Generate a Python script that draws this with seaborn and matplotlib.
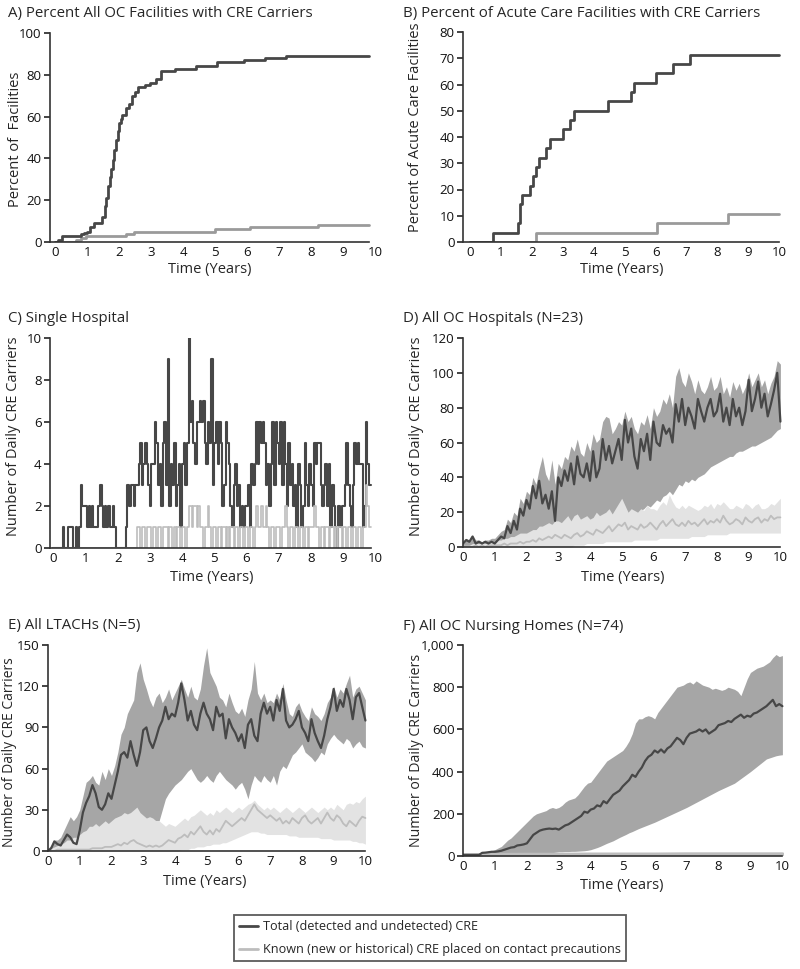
import numpy as np
import seaborn as sns
import matplotlib.pyplot as plt
from matplotlib.lines import Line2D
from matplotlib.ticker import StrMethodFormatter

sns.set_style("ticks")
plt.rcParams['font.family'] = ['Open Sans', 'DejaVu Sans']
plt.rcParams.update({
    "font.size": 9,
    "axes.linewidth": 1.2,
    "axes.edgecolor": "#333333",
    "xtick.color": "#111111",
    "ytick.color": "#111111",
})

DARK = "#474747"
BAND = "#a6a6a6"
LIGHT = "#bdbdbd"
LIGHT_BAND = "#e3e3e3"
AB_GRAY = "#9a9a9a"

# ---- A) all OC facilities (step breakpoints) ----
a_t_total = [0, 0.1, 0.2, 0.8, 0.9, 1.0, 1.1, 1.2, 1.45, 1.55,
             1.6, 1.65, 1.7, 1.75, 1.8, 1.85, 1.9, 1.95, 2.0, 2.05,
             2.1, 2.2, 2.3, 2.4, 2.5, 2.6, 2.8, 2.95, 3.15, 3.3,
             3.75, 4.4, 5.05, 5.9, 6.55, 7.2, 9.8]
a_total = [0, 1, 3, 4, 4.5, 5, 7, 9, 12, 17,
           21, 27, 31, 35, 39, 44, 49, 53, 57, 59,
           61, 64, 66, 70, 72, 74, 75, 76, 78, 82,
           83, 84, 86, 87, 88, 89, 89]
a_t_known = [0, 0.65, 0.8, 0.95, 2.2, 2.45, 5.0, 6.1, 8.2, 9.8]
a_known = [0, 1, 2, 3, 4, 5, 6, 7, 8, 8]

# ---- B) acute care facilities ----
b_t_total = [0, 0.75, 1.57, 1.62, 1.7, 1.95, 2.05, 2.15, 2.25, 2.45,
             2.6, 3.0, 3.25, 3.35, 4.45, 5.2, 5.3, 6.0, 6.55, 7.1, 10.0]
b_total = [0, 3.6, 7.1, 14.3, 17.9, 21.4, 25.0, 28.6, 32.1, 35.7,
           39.3, 42.9, 46.4, 50.0, 53.6, 57.1, 60.7, 64.3, 67.9, 71.4, 71.4]
b_t_known = [0, 2.15, 6.05, 8.35, 10.0]
b_known = [0, 3.6, 7.1, 10.7, 10.7]

# ---- C) single hospital, every 0.05 yr ----
c_total = [
    0, 0, 0, 0, 0, 0, 1, 0, 0, 1, 1, 1, 0, 0, 1, 0, 1, 3, 2, 2,
    2, 1, 2, 1, 2, 1, 1, 1, 2, 3, 2, 1, 2, 1, 2, 1, 1, 2, 1, 0,
    0, 0, 0, 0, 0, 1, 3, 2, 3, 3, 2, 3, 3, 4, 5, 3, 4, 5, 4, 3,
    2, 4, 4, 6, 5, 3, 4, 2, 5, 6, 3, 9, 2, 4, 3, 5, 2, 3, 4, 1,
    4, 5, 3, 5, 10, 6, 7, 5, 4, 6, 6, 7, 6, 7, 5, 4, 6, 5, 9, 3,
    5, 6, 4, 6, 5, 2, 3, 6, 5, 4, 2, 1, 3, 4, 2, 3, 1, 2, 1, 2,
    2, 3, 1, 4, 3, 4, 6, 4, 6, 5, 6, 5, 3, 4, 2, 4, 6, 3, 6, 5,
    4, 6, 3, 6, 4, 2, 5, 3, 4, 2, 3, 1, 4, 3, 1, 2, 5, 3, 2, 4,
    3, 2, 5, 4, 5, 5, 3, 2, 3, 4, 2, 4, 1, 3, 2, 1, 0, 2, 1, 2,
    2, 3, 5, 3, 2, 1, 3, 5, 4, 5, 4, 4, 1, 2, 6, 4, 3, 3]
c_known = [
    0, 0, 0, 0, 0, 0, 0, 0, 0, 0, 0, 0, 0, 0, 0, 0, 0, 0, 0, 0,
    0, 0, 0, 0, 0, 0, 0, 0, 0, 0, 0, 0, 0, 0, 0, 0, 0, 0, 0, 0,
    0, 0, 0, 0, 0, 0, 0, 0, 0, 0, 0, 0, 1, 1, 0, 1, 1, 0, 1, 1,
    1, 0, 1, 1, 0, 1, 1, 0, 1, 1, 1, 0, 1, 1, 0, 1, 0, 1, 1, 0,
    1, 1, 0, 1, 2, 2, 1, 2, 2, 1, 2, 1, 1, 0, 1, 1, 2, 1, 0, 1,
    1, 0, 1, 1, 0, 1, 1, 0, 1, 0, 1, 1, 0, 1, 1, 0, 1, 1, 0, 1,
    1, 0, 1, 1, 0, 1, 2, 1, 1, 2, 1, 1, 2, 1, 0, 1, 1, 0, 1, 1,
    1, 0, 1, 1, 2, 1, 0, 1, 1, 0, 1, 1, 0, 1, 1, 0, 1, 1, 0, 1,
    1, 1, 2, 1, 1, 0, 1, 1, 0, 1, 1, 0, 1, 1, 0, 1, 0, 1, 1, 0,
    1, 1, 0, 1, 1, 0, 1, 1, 0, 1, 1, 0, 1, 1, 3, 2, 1, 1]

# ---- D) all OC hospitals, every 0.1 yr ----
d_total = [
    2, 4, 3, 6, 2, 3, 2, 3, 2, 3,
    2, 4, 6, 5, 12, 8, 15, 10, 22, 18,
    27, 22, 35, 28, 38, 25, 30, 22, 32, 15,
    40, 35, 44, 38, 48, 36, 52, 42, 40, 48,
    38, 55, 40, 45, 62, 50, 58, 48, 55, 62,
    50, 73, 60, 68, 52, 45, 62, 55, 65, 50,
    72, 60, 58, 70, 65, 68, 60, 82, 72, 85,
    70, 80, 75, 68, 85, 78, 72, 80, 85, 75,
    78, 88, 72, 80, 70, 85, 75, 80, 70, 78,
    96, 78, 85, 95, 80, 88, 75, 82, 90, 100, 72]
d_upper = [
    3, 5, 4, 7, 4, 4, 3, 4, 4, 5,
    5, 7, 9, 10, 16, 14, 20, 18, 28, 25,
    32, 30, 40, 36, 45, 52, 42, 38, 50, 36,
    48, 45, 52, 50, 58, 55, 62, 54, 52, 60,
    55, 65, 60, 62, 72, 75, 74, 65, 68, 72,
    70, 78, 72, 75, 68, 65, 72, 70, 76, 68,
    80, 75, 78, 85, 82, 88, 80, 98, 103, 95,
    92, 100, 95, 88, 96, 90, 88, 92, 98, 90,
    92, 98, 88, 92, 86, 95, 90, 94, 88, 92,
    100, 92, 96, 100, 92, 96, 88, 94, 98, 107, 105]
d_lower = [
    0, 0, 0, 0, 0, 0, 0, 0, 0, 0,
    1, 1, 2, 2, 3, 3, 4, 4, 5, 5,
    5, 6, 6, 7, 8, 8, 7, 6, 8, 6,
    6, 7, 8, 8, 9, 9, 10, 11, 12, 13,
    14, 14, 15, 14, 16, 15, 17, 16, 18, 19,
    20, 19, 18, 20, 19, 18, 21, 22, 24, 23,
    25, 27, 26, 29, 30, 32, 30, 33, 36, 35,
    38, 37, 39, 38, 40, 41, 42, 44, 46, 47,
    48, 49, 50, 51, 52, 52, 54, 55, 55, 56,
    57, 58, 58, 59, 60, 61, 62, 63, 65, 67, 68]
d_known = [
    0, 0, 0, 0, 1, 0, 1, 0, 1, 1,
    1, 1, 1, 2, 1, 2, 2, 2, 3, 2,
    3, 3, 4, 3, 5, 4, 5, 6, 5, 7,
    6, 5, 7, 6, 5, 7, 8, 6, 7, 9,
    8, 7, 10, 9, 8, 10, 12, 9, 11, 13,
    12, 14, 10, 12, 11, 10, 13, 11, 12, 14,
    12, 10, 13, 15, 12, 14, 16, 13, 12, 14,
    12, 15, 13, 14, 12, 14, 16, 13, 15, 14,
    16, 14, 18, 15, 13, 14, 16, 15, 13, 17,
    15, 14, 16, 17, 14, 16, 15, 18, 16, 17, 17]
d_known_upper = [
    1, 1, 1, 2, 2, 2, 3, 2, 3, 3,
    3, 4, 4, 5, 5, 6, 6, 7, 8, 8,
    8, 9, 10, 10, 12, 12, 13, 14, 13, 15,
    15, 14, 16, 18, 15, 18, 19, 16, 17, 18,
    16, 17, 20, 18, 19, 20, 22, 19, 22, 25,
    28, 24, 20, 22, 21, 20, 22, 21, 24, 22,
    22, 21, 24, 26, 24, 30, 26, 23, 22, 24,
    22, 24, 23, 22, 21, 22, 24, 23, 25, 22,
    25, 24, 26, 24, 22, 22, 24, 23, 22, 25,
    24, 22, 24, 25, 22, 22, 23, 25, 24, 26, 28]
d_known_lower = [
    0, 0, 0, 0, 0, 0, 0, 0, 0, 0,
    0, 0, 0, 0, 0, 0, 0, 0, 0, 0,
    0, 0, 0, 0, 0, 0, 0, 0, 0, 0,
    0, 0, 0, 0, 0, 1, 1, 1, 1, 2,
    2, 2, 2, 2, 2, 3, 3, 3, 3, 3,
    3, 3, 3, 3, 4, 4, 4, 4, 4, 4,
    4, 4, 5, 5, 5, 5, 5, 5, 5, 5,
    5, 5, 6, 6, 6, 6, 6, 7, 7, 7,
    7, 7, 7, 7, 8, 8, 8, 8, 8, 8,
    8, 8, 8, 8, 8, 8, 8, 8, 8, 8, 8]

# ---- E) all LTACHs, every 0.1 yr ----
e_total = [
    0, 2, 7, 5, 4, 8, 12, 10, 6, 5,
    15, 28, 35, 40, 48, 42, 32, 30, 34, 42,
    38, 48, 58, 70, 72, 68, 80, 70, 62, 72,
    88, 90, 80, 75, 82, 90, 95, 105, 96, 100,
    98, 108, 122, 110, 95, 102, 92, 88, 100, 108,
    100, 96, 88, 105, 98, 100, 82, 96, 90, 86,
    80, 85, 75, 92, 96, 84, 80, 100, 108, 100,
    105, 95, 110, 102, 118, 95, 90, 92, 96, 102,
    90, 86, 80, 96, 86, 80, 75, 84, 96, 105,
    118, 102, 110, 105, 118, 110, 96, 112, 115, 105, 95]
e_upper = [
    2, 4, 8, 8, 10, 15, 20, 25, 22, 25,
    30, 40, 50, 52, 55, 50, 48, 58, 52, 60,
    55, 62, 72, 85, 90, 100, 105, 110, 130, 137,
    125, 118, 110, 105, 112, 115, 108, 112, 118, 110,
    115, 120, 125, 118, 112, 120, 112, 110, 118, 135,
    148, 130, 125, 120, 112, 110, 105, 115, 108, 102,
    100, 104, 98, 110, 118, 138, 115, 110, 115, 108,
    110, 108, 115, 110, 122, 110, 100, 98, 105, 108,
    102, 98, 95, 105, 100, 98, 95, 100, 108, 112,
    120, 112, 118, 115, 122, 128, 112, 118, 120, 115, 110]
e_lower = [
    0, 0, 1, 1, 2, 2, 3, 3, 4, 4,
    5, 6, 8, 10, 12, 12, 13, 14, 15, 15,
    16, 17, 18, 20, 20, 22, 22, 24, 24, 23,
    22, 22, 22, 22, 22, 22, 30, 38, 42, 45,
    48, 50, 52, 55, 58, 60, 56, 52, 50, 52,
    55, 52, 50, 55, 58, 55, 52, 50, 48, 45,
    48, 50, 45, 38, 48, 55, 52, 50, 55, 52,
    50, 55, 48, 58, 62, 60, 65, 70, 72, 75,
    78, 72, 70, 68, 65, 68, 72, 70, 78, 82,
    85, 82, 80, 78, 82, 80, 75, 78, 80, 76, 75]
e_known = [
    0, 0, 0, 1, 1, 1, 1, 1, 1, 1,
    1, 1, 1, 1, 2, 2, 2, 2, 3, 3,
    3, 4, 5, 4, 6, 5, 7, 8, 6, 5,
    4, 3, 4, 3, 4, 3, 4, 6, 8, 7,
    6, 9, 10, 12, 10, 14, 12, 15, 18, 14,
    12, 15, 12, 16, 14, 18, 22, 20, 18, 20,
    22, 24, 22, 26, 30, 34, 30, 28, 26, 24,
    26, 24, 22, 24, 20, 22, 20, 24, 22, 20,
    24, 26, 22, 20, 22, 24, 20, 24, 28, 24,
    22, 26, 24, 20, 18, 22, 20, 18, 22, 25, 24]
e_known_upper = [
    1, 2, 3, 4, 5, 6, 8, 8, 10, 10,
    12, 14, 15, 18, 18, 20, 18, 20, 22, 20,
    22, 24, 25, 26, 28, 27, 28, 30, 32, 28,
    26, 24, 25, 24, 22, 22, 20, 18, 20, 19,
    18, 20, 22, 24, 22, 25, 26, 28, 30, 28,
    26, 28, 26, 30, 28, 30, 32, 30, 28, 30,
    32, 30, 32, 34, 35, 37, 34, 32, 30, 32,
    30, 32, 30, 28, 30, 32, 30, 28, 30, 32,
    30, 28, 30, 32, 30, 28, 30, 32, 30, 32,
    30, 34, 32, 30, 34, 35, 34, 36, 35, 38, 40]
e_known_lower = [
    0, 0, 0, 0, 0, 0, 0, 0, 0, 0,
    0, 0, 0, 0, 0, 0, 0, 0, 0, 0,
    0, 0, 0, 0, 0, 0, 0, 0, 0, 0,
    0, 0, 0, 0, 0, 0, 0, 0, 0, 0,
    0, 0, 1, 1, 1, 2, 2, 3, 3, 3,
    4, 4, 5, 5, 5, 6, 6, 7, 8, 9,
    10, 11, 12, 13, 14, 14, 14, 13, 13, 12,
    12, 12, 12, 12, 12, 12, 11, 11, 11, 10,
    10, 10, 10, 10, 10, 10, 9, 9, 9, 9,
    8, 8, 8, 8, 8, 8, 7, 7, 6, 6, 5]

# ---- F) all OC nursing homes, every 0.1 yr ----
f_total = [
    5, 5, 5, 5, 5, 5, 15, 16, 18, 20,
    20, 22, 25, 30, 35, 40, 42, 50, 52, 55,
    60, 80, 100, 110, 120, 125, 128, 130, 128, 130,
    125, 135, 145, 150, 160, 170, 180, 190, 210, 205,
    220, 225, 240, 235, 260, 250, 270, 290, 300, 310,
    330, 345, 360, 385, 375, 400, 420, 450, 470, 480,
    500, 490, 505, 490, 510, 520, 540, 560, 550, 530,
    560, 580, 585, 590, 600, 590, 600, 580, 590, 600,
    620, 625, 630, 640, 635, 650, 660, 670, 655, 665,
    660, 675, 680, 690, 700, 710, 725, 740, 710, 720, 710]
f_upper = [
    5, 5, 6, 8, 10, 12, 15, 18, 22, 25,
    30, 38, 45, 60, 75, 85, 100, 115, 130, 145,
    160, 175, 190, 200, 205, 210, 215, 225, 230, 225,
    230, 240, 255, 265, 270, 275, 290, 310, 330, 345,
    350, 370, 390, 410, 430, 450, 460, 470, 480, 490,
    500, 520, 545, 580, 630, 650, 650, 660, 665, 660,
    650, 680, 700, 720, 740, 760, 780, 800, 805, 810,
    820, 825, 815, 830, 820, 810, 805, 800, 790, 795,
    790, 785, 790, 800, 795, 790, 780, 760, 800, 840,
    870, 880, 890, 895, 900, 910, 920, 940, 955, 945, 950]
f_lower = [
    0, 0, 0, 0, 0, 0, 0, 0, 0, 0,
    0, 0, 0, 0, 0, 0, 1, 1, 2, 3,
    5, 6, 7, 8, 9, 10, 12, 14, 16, 18,
    20, 20, 21, 21, 22, 22, 23, 24, 25, 27,
    30, 35, 40, 46, 53, 60, 66, 72, 80, 88,
    95, 102, 110, 116, 123, 130, 136, 142, 148, 154,
    160, 167, 174, 181, 188, 195, 202, 209, 216, 223,
    230, 238, 246, 254, 262, 270, 278, 286, 294, 302,
    310, 317, 324, 331, 338, 345, 356, 367, 378, 389,
    400, 412, 424, 436, 448, 460, 465, 470, 475, 478, 480]
f_years = [0, 1, 2, 3, 4, 5, 6, 7, 8, 9, 10]
f_known = [2, 3, 4, 4, 5, 5, 5, 6, 6, 6, 6]
f_known_upper = [3, 6, 8, 9, 10, 10, 11, 12, 12, 12, 12]

W, H = 800, 969
fig = plt.figure(figsize=(W / 100, H / 100), dpi=100)


def px_axes(left, right, top, bottom):
    return fig.add_axes([left / W, 1 - bottom / H, (right - left) / W, (bottom - top) / H])


def fig_text(x, y, s, **kw):
    fig.text(x / W, 1 - y / H, s, ha="center", va="center", **kw)


def style(ax, xlim, ylim, yticks, x_end):
    ax.set_xlim(*xlim)
    ax.set_ylim(*ylim)
    ax.set_xticks(range(0, 11))
    ax.set_yticks(yticks)
    sns.despine(ax=ax)
    ax.spines["bottom"].set_bounds(xlim[0], x_end)
    ax.tick_params(axis="x", length=0, pad=3, labelsize=9.5)
    ax.tick_params(axis="y", length=4, width=1.1, pad=2, labelsize=9.5)
    ax.set_xlabel("")
    ax.set_ylabel("")


def band_panel(ax, t, lo, hi, line, klo, khi, kline):
    ax.fill_between(t, lo, hi, color=BAND, linewidth=0)
    ax.fill_between(t, klo, khi, color=LIGHT_BAND, linewidth=0)
    sns.lineplot(x=t, y=kline, ax=ax, color=LIGHT, linewidth=1.3, estimator=None)
    sns.lineplot(x=t, y=line, ax=ax, color=DARK, linewidth=1.6, estimator=None)


t01 = np.round(np.arange(len(d_total)) * 0.1, 2)
t005 = np.round(np.arange(len(c_total)) * 0.05, 2)

# A
axA = px_axes(50, 377, 33, 242)
sns.lineplot(x=a_t_known, y=a_known, ax=axA, color=AB_GRAY, linewidth=2.0,
             drawstyle="steps-post", estimator=None)
sns.lineplot(x=a_t_total, y=a_total, ax=axA, color=DARK, linewidth=2.0,
             drawstyle="steps-post", estimator=None)
style(axA, (-0.16, 10.05), (0, 100), range(0, 101, 20), 9.8)

# B
axB = px_axes(463, 781, 32, 242)
sns.lineplot(x=b_t_known, y=b_known, ax=axB, color=AB_GRAY, linewidth=2.0,
             drawstyle="steps-post", estimator=None)
sns.lineplot(x=b_t_total, y=b_total, ax=axB, color=DARK, linewidth=2.0,
             drawstyle="steps-post", estimator=None)
style(axB, (-0.22, 10.05), (0, 80), range(0, 81, 10), 10.0)

# C
axC = px_axes(50, 377, 338, 548)
sns.lineplot(x=t005, y=c_total, ax=axC, color=DARK, linewidth=1.5,
             drawstyle="steps-post", estimator=None)
sns.lineplot(x=t005, y=c_known, ax=axC, color=LIGHT, linewidth=1.2,
             drawstyle="steps-post", estimator=None)
style(axC, (-0.1, 10.05), (0, 10), range(0, 11, 2), 9.85)

# D
axD = px_axes(463, 782, 338, 547)
band_panel(axD, t01, d_lower, d_upper, d_total, d_known_lower, d_known_upper, d_known)
style(axD, (0, 10.05), (0, 120), range(0, 121, 20), 10.0)

# E
axE = px_axes(48, 367, 645, 851)
band_panel(axE, t01, e_lower, e_upper, e_total, e_known_lower, e_known_upper, e_known)
style(axE, (0, 10.05), (0, 150), range(0, 151, 30), 10.0)

# F
axF = px_axes(463, 784, 645, 856)
axF.fill_between(t01, f_lower, f_upper, color=BAND, linewidth=0)
axF.fill_between(f_years, [0] * len(f_years), f_known_upper, color=LIGHT_BAND, linewidth=0)
sns.lineplot(x=f_years, y=f_known, ax=axF, color=LIGHT, linewidth=3.5, estimator=None)
sns.lineplot(x=t01, y=f_total, ax=axF, color=DARK, linewidth=1.6, estimator=None)
style(axF, (0, 10.05), (0, 1000), range(0, 1001, 200), 10.0)
axF.yaxis.set_major_formatter(StrMethodFormatter("{x:,.0f}"))

# titles
fs_t = 10.8
fig.text(8 / W, 1 - 13 / H, "A) Percent All OC Facilities with CRE Carriers", ha="left", va="center", fontsize=fs_t)
fig.text(403 / W, 1 - 13 / H, "B) Percent of Acute Care Facilities with CRE Carriers", ha="left", va="center", fontsize=fs_t)
fig.text(8 / W, 1 - 319 / H, "C) Single Hospital", ha="left", va="center", fontsize=fs_t)
fig.text(403 / W, 1 - 319 / H, "D) All OC Hospitals (N=23)", ha="left", va="center", fontsize=fs_t)
fig.text(8 / W, 1 - 626 / H, "E) All LTACHs (N=5)", ha="left", va="center", fontsize=fs_t)
fig.text(403 / W, 1 - 626 / H, "F) All OC Nursing Homes (N=74)", ha="left", va="center", fontsize=fs_t)

# axis labels
fs_l = 10.5
for x, y in [(210, 269), (622, 269), (212, 578), (623, 578), (205, 882), (622, 885)]:
    fig_text(x, y, "Time (Years)", fontsize=fs_l)
fig_text(16, 139, "Percent of  Facilities", rotation=90, fontsize=fs_l)
fig_text(415, 127, "Percent of Acute Care Facilities", rotation=90, fontsize=fs_l)
fig_text(14, 436, "Number of Daily CRE Carriers", rotation=90, fontsize=fs_l)
fig_text(416, 436, "Number of Daily CRE Carriers", rotation=90, fontsize=fs_l)
fig_text(10, 752, "Number of Daily CRE Carriers", rotation=90, fontsize=10.0)
fig_text(416, 750, "Number of Daily CRE Carriers", rotation=90, fontsize=10.2)

handles = [Line2D([], [], color=DARK, linewidth=2.0),
           Line2D([], [], color=LIGHT, linewidth=2.0)]
labels = ["Total (detected and undetected) CRE",
          "Known (new or historical) CRE placed on contact precautions"]
leg = fig.legend(handles, labels, loc="center", bbox_to_anchor=(430 / W, 1 - 938 / H),
                 frameon=True, fancybox=False, edgecolor="#333333", fontsize=9.1,
                 handlelength=1.5, handletextpad=0.4, borderpad=0.4, labelspacing=0.8)
leg.get_frame().set_linewidth(1.3)

fig.savefig("out.png", dpi=100)
